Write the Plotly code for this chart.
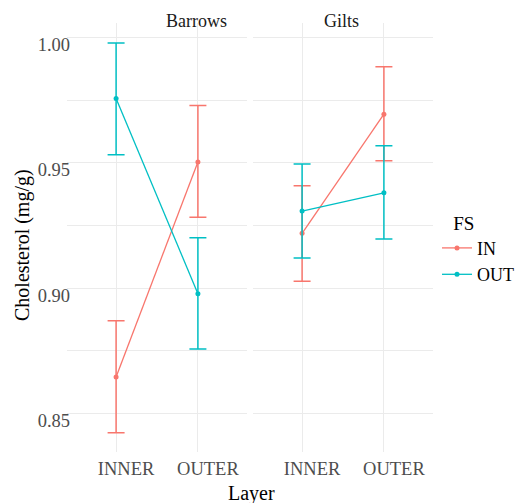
import plotly.graph_objects as go

layers = ["INNER", "OUTER"]
sexes = ["Barrows", "Gilts"]
fs_levels = ["IN", "OUT"]

# mean, lower, upper per sex / FS, ordered by layers
barrows_in_mean = [0.8645, 0.9504]
barrows_in_low = [0.8423, 0.9283]
barrows_in_high = [0.8870, 0.9730]
barrows_out_mean = [0.9757, 0.8978]
barrows_out_low = [0.9533, 0.8757]
barrows_out_high = [0.9979, 0.9201]

gilts_in_mean = [0.9219, 0.9695]
gilts_in_low = [0.9028, 0.9509]
gilts_in_high = [0.9409, 0.9884]
gilts_out_mean = [0.9308, 0.9381]
gilts_out_low = [0.9121, 0.9196]
gilts_out_high = [0.9496, 0.9569]

y_ticks = [0.85, 0.90, 0.95, 1.00]
y_tick_labels = ["0.85", "0.90", "0.95", "1.00"]
y_minor = [0.875, 0.925, 0.975]

colors = {"IN": "#F8766D", "OUT": "#00BFC4"}
FONT = "Times New Roman, Liberation Serif, serif"

data = {
    ("Barrows", "IN"): (barrows_in_mean, barrows_in_low, barrows_in_high),
    ("Barrows", "OUT"): (barrows_out_mean, barrows_out_low, barrows_out_high),
    ("Gilts", "IN"): (gilts_in_mean, gilts_in_low, gilts_in_high),
    ("Gilts", "OUT"): (gilts_out_mean, gilts_out_low, gilts_out_high),
}

fig = go.Figure()
for i, sex in enumerate(sexes):
    xa = "x" if i == 0 else "x2"
    ya = "y" if i == 0 else "y2"
    for fs in fs_levels:
        m, lo, hi = data[(sex, fs)]
        fig.add_trace(go.Scatter(
            x=layers, y=m, xaxis=xa, yaxis=ya,
            mode="lines+markers", name=fs, legendgroup="fs",
            showlegend=(i == 0),
            line=dict(color=colors[fs], width=1.3),
            marker=dict(color=colors[fs], size=5),
            error_y=dict(type="data", symmetric=False,
                         array=[h - v for h, v in zip(hi, m)],
                         arrayminus=[v - l for v, l in zip(m, lo)],
                         color=colors[fs], thickness=1.5, width=8.5),
        ))

W, H = 517, 503
x1 = [67 / W, 247 / W]
x2 = [253 / W, 433 / W]
yd = [1 - 451.7 / H, 1 - 23 / H]
yr = [0.8347, 1.0059]

grid = "#EBEBEB"
tickfont = dict(family=FONT, size=18.5, color="#4D4D4D")
xcommon = dict(type="category", range=[-0.6, 1.6], showgrid=True, gridcolor=grid,
               gridwidth=1, zeroline=False, showline=False, ticks="",
               tickfont=tickfont, ticklabelshift=10, ticklabelstandoff=4,
               automargin=False)
ycommon = dict(range=yr, domain=yd, showgrid=True, gridcolor=grid, gridwidth=1,
               zeroline=False, showline=False, ticks="",
               tickvals=y_ticks, automargin=False,
               minor=dict(tickvals=y_minor, showgrid=True, gridcolor=grid, gridwidth=1))

fig.update_layout(
    width=W, height=H,
    margin=dict(l=0, r=0, t=0, b=0, autoexpand=False),
    paper_bgcolor="white", plot_bgcolor="white",
    font=dict(family=FONT, color="black"),
    xaxis=dict(domain=x1, anchor="y", **xcommon),
    xaxis2=dict(domain=x2, anchor="y2", **xcommon),
    yaxis=dict(anchor="x", ticktext=y_tick_labels, tickfont=tickfont,
               ticklabelshift=7, ticklabelstandoff=-4, **ycommon),
    yaxis2=dict(anchor="x2", showticklabels=False, matches="y", **ycommon),
    legend=dict(x=437 / W, y=1 - 205 / H, xanchor="left", yanchor="top",
                title=dict(text="\u00a0\u00a0\u00a0FS", font=dict(family=FONT, size=19, color="black")),
                font=dict(family=FONT, size=18, color="black"),
                tracegroupgap=0, itemwidth=30),
    showlegend=True,
)

annotations = [
    dict(text=sexes[0], x=163.5 / W, y=1 - 21 / H, xref="paper", yref="paper",
         showarrow=False, font=dict(family=FONT, size=18, color="#1A1A1A"), yanchor="middle"),
    dict(text=sexes[1], x=341 / W, y=1 - 21 / H, xref="paper", yref="paper",
         showarrow=False, font=dict(family=FONT, size=18, color="#1A1A1A"), yanchor="middle"),
    dict(text="Layer", x=251 / W, y=1 - 493 / H, xref="paper", yref="paper",
         showarrow=False, font=dict(family=FONT, size=20, color="black"), yanchor="middle"),
    dict(text="Cholesterol (mg/g)", x=22 / W, y=1 - 245 / H, xref="paper", yref="paper",
         showarrow=False, textangle=-90, font=dict(family=FONT, size=20, color="black"),
         xanchor="center", yanchor="middle"),
]
fig.update_layout(annotations=annotations)

fig.write_html("out.html", config={"displayModeBar": False},
               post_script="document.body.style.margin='0px';")
